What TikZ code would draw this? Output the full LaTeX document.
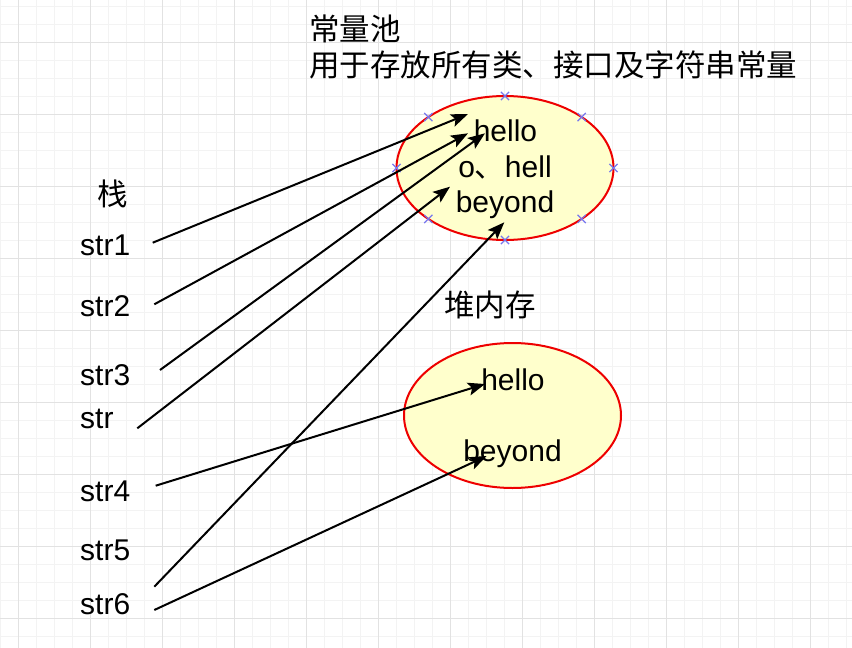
\documentclass[tikz,border=0pt]{standalone}
\usepackage{fontspec}
\setmainfont{Liberation Sans}
\newfontfamily\cjk{Noto Sans CJK SC}
\usetikzlibrary{arrows.meta,shapes.geometric,shapes.misc}
\definecolor{gridmajor}{HTML}{E2E2E2}
\definecolor{gridminor}{HTML}{F3F3F3}
\definecolor{poolfill}{HTML}{FFFFCC}
\definecolor{poolline}{HTML}{EE0000}
\definecolor{markblue}{HTML}{7777EE}
\begin{document}
\begin{tikzpicture}[x=1pt,y=-1pt,
  lbl/.style={font=\fontsize{30}{36}\selectfont, inner sep=0pt, anchor=base west},
  ctext/.style={font=\fontsize{30}{36}\selectfont, inner sep=0pt, anchor=base},
  cjktext/.style={font=\cjk\fontsize{30.5}{36}\selectfont, inner sep=0pt},
  pool/.style={ellipse, draw=poolline, fill=poolfill, line width=2pt, inner sep=0pt},
  xmk/.style={cross out, draw=markblue, line width=1.2pt, minimum size=7pt, inner sep=0pt},
  arr/.style={line width=2pt, -{Stealth[length=17pt,width=13pt,inset=3.5pt]}}
]
\useasboundingbox (0,0) rectangle (852,648);
\fill[white] (0,0) rectangle (852,648);
% grid
\foreach \x in {0.7,18.7,...,852} \draw[gridminor, line width=0.8pt] (\x,0) -- (\x,648);
\foreach \y in {6.3,24.3,...,648} \draw[gridminor, line width=0.8pt] (0,\y) -- (852,\y);
\foreach \x in {18.7,90.7,...,852} \draw[gridmajor, line width=0.9pt] (\x,0) -- (\x,648);
\foreach \y in {42.3,114.3,...,648} \draw[gridmajor, line width=0.9pt] (0,\y) -- (852,\y);

% titles
\node[cjktext, anchor=west] (t1) at (309,29) {常量池};
\node[cjktext, anchor=west] (t2) at (309,65) {用于存放所有类、接口及字符串常量};
\node[cjktext] (stack) at (113,194) {栈};
\node[cjktext] (heap) at (490,305) {堆内存};

% constant pool
\node[pool, minimum width=217pt, minimum height=144pt] (cp) at (505,168) {};
\foreach \dx/\dy in {0/-72, 0/72, -108.5/0, 108.5/0, 76.7/-50.9, -76.7/-50.9, 76.7/50.9, -76.7/50.9}
  \path (cp.center) ++(\dx,\dy) node[xmk] {};
\node[ctext] (ch) at (505.5,141.7) {hello};
\node[ctext] (co) at (505,177) {o{\cjk 、}hell};
\node[ctext] (cb) at (505,212.7) {beyond};

% heap
\node[pool, minimum width=217pt, minimum height=145pt] (hp) at (512.5,415.5) {};
\node[ctext] (hh) at (513,390) {hello};
\node[ctext] (hb) at (512.5,461.7) {beyond};

% stack labels
\node[lbl] (s1) at (80,255) {str1};
\node[lbl] (s2) at (80,316) {str2};
\node[lbl] (s3) at (80,385) {str3};
\node[lbl] (s0) at (80,428) {str};
\node[lbl] (s4) at (80,501) {str4};
\node[lbl] (s5) at (80,560) {str5};
\node[lbl] (s6) at (80,614) {str6};

% connector endpoints
\coordinate (a1) at (152.7,242.7);
\coordinate (a2) at (154.3,304.3);
\coordinate (a3) at (160,370);
\coordinate (a0) at (137.3,428.3);
\coordinate (a4) at (155.7,485.7);
\coordinate (a5) at (154.3,586.7);
\coordinate (a6) at (154.3,610);
\coordinate (b1) at (468,114);
\coordinate (b2) at (468,133.3);
\coordinate (b3) at (485,133.3);
\coordinate (b0) at (450,186.7);
\coordinate (b5) at (504.3,222.3);
\coordinate (b4) at (485,384);
\coordinate (b6) at (486.7,456);

\draw[arr] (a1) -- (b1);
\draw[arr] (a2) -- (b2);
\draw[arr] (a3) -- (b3);
\draw[arr] (a0) -- (b0);
\draw[arr] (a5) -- (b5);
\draw[arr] (a4) -- (b4);
\draw[arr] (a6) -- (b6);
\end{tikzpicture}
\end{document}
